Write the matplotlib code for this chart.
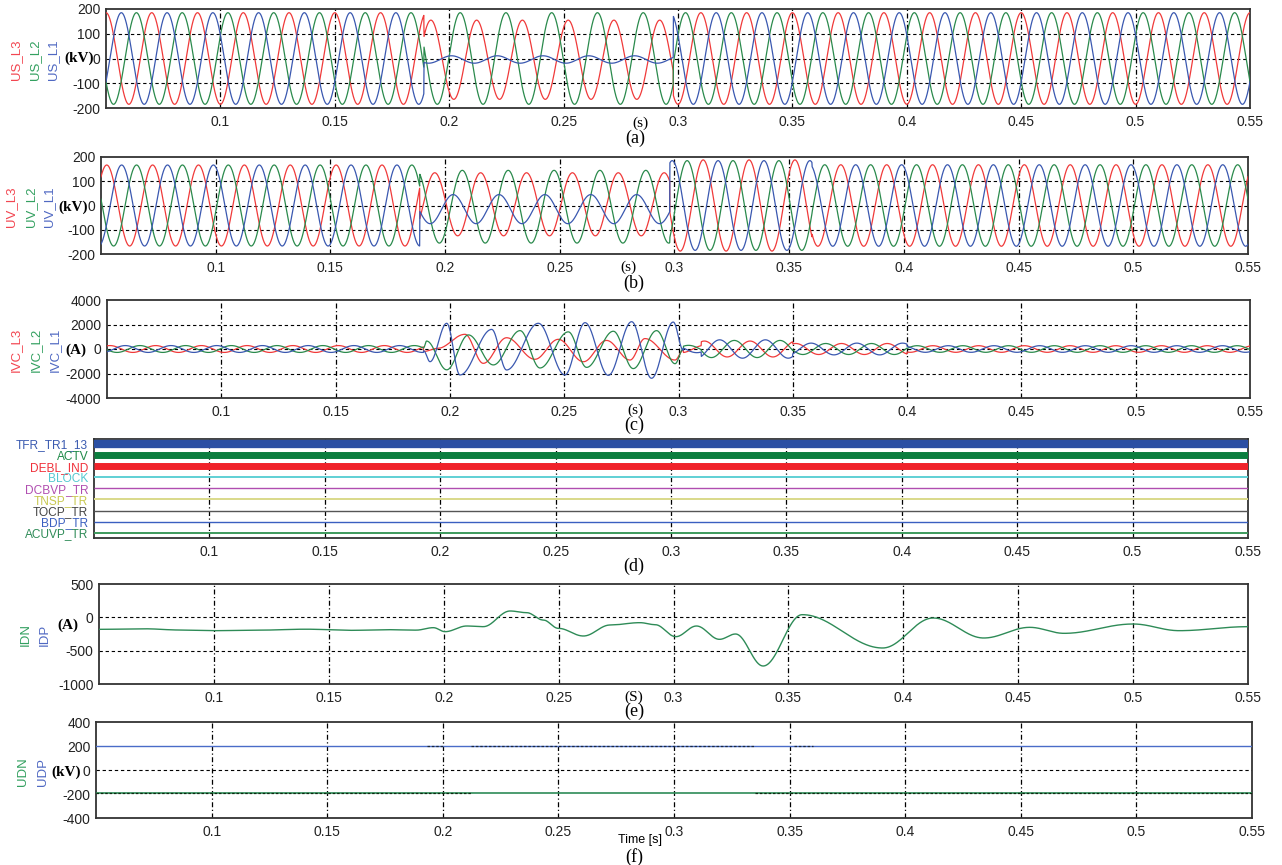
import numpy as np
import matplotlib
matplotlib.use("Agg")
import matplotlib.pyplot as plt

plt.rcParams['font.family'] = ['Liberation Sans', 'DejaVu Sans']

# ---------------- data ----------------
F_HZ = 50.0
T_START, T_END = 0.05, 0.55
FAULT_ON, FAULT_OFF = 0.189, 0.298
XTICKS = [0.1, 0.15, 0.2, 0.25, 0.3, 0.35, 0.4, 0.45, 0.5, 0.55]

# (a) US: segments [pre-fault, fault, post-fault]
US_EDGES = [T_START, FAULT_ON, FAULT_OFF, T_END]
US_PEAK0 = {'L1': 0.0567, 'L2': 0.0633, 'L3': 0.050}      # first positive peak time
US_AMP = {'L1': [185, 15, 185], 'L2': [185, 185, 185], 'L3': [185, 160, 185]}
US_LAG = {'L1': [0, 0.0043, 0], 'L2': [0, 0.0015, 0], 'L3': [0, 0.002, 0]}
US_OFF = {'L1': [0, -4, 0], 'L2': [0, 0, 0], 'L3': [0, -5, 0]}

# (b) UV: segments [pre, fault, post transient, settled]
UV_EDGES = [T_START, FAULT_ON, FAULT_OFF, 0.36, T_END]
UV_PEAK0 = {'L1': 0.059, 'L2': 0.0655, 'L3': 0.0525}
UV_AMP = {'L1': [167, 60, 185, 168], 'L2': [167, 150, 185, 168], 'L3': [167, 130, 188, 168]}
UV_LAG = {'L1': [0, 0.0045, 0, 0], 'L2': [0, 0.002, 0, 0], 'L3': [0, 0.003, 0, 0]}
UV_OFF = {'L1': [0, -15, 0, 0], 'L2': [0, -5, 0, 0], 'L3': [0, 5, 0, 0]}

# (c) IVC: steady segments + extrema during the fault
IVC_EDGES = [T_START, FAULT_ON, 0.302, 0.31, 0.35, 0.40, T_END]
IVC_PEAK0 = {'L1': 0.058, 'L2': 0.0644, 'L3': 0.0513}
IVC_AMP = {'L1': [280, 0, 300, 750, 480, 270],
           'L2': [280, 0, 300, 700, 450, 270],
           'L3': [280, 0, 300, 650, 450, 270]}
IVC_L1_T = [0.1885, 0.1913, 0.1986, 0.2044, 0.2183, 0.2248, 0.2387, 0.2503, 0.2591,
            0.2693, 0.2795, 0.2882, 0.2977, 0.3021]
IVC_L1_V = [-150, -1036, 2100, -2120, 1600, -1713, 2100, -2120, 2150, -2150, 2230,
            -2390, 2200, -100]
IVC_L2_T = [0.1885, 0.1898, 0.1986, 0.2081, 0.2190, 0.2307, 0.2394, 0.2518, 0.2598,
            0.2715, 0.2802, 0.2904, 0.2985, 0.3021]
IVC_L2_V = [100, 650, -1700, 1150, -1300, 1500, -1550, 1400, -1500, 1450, -1600, 1500,
            -1200, 0]
IVC_L3_T = [0.1885, 0.1946, 0.2066, 0.2146, 0.2248, 0.2372, 0.2474, 0.2584, 0.2685,
            0.2788, 0.2853, 0.2985, 0.3021]
IVC_L3_V = [-200, 50, 1200, -1170, 920, -840, 790, -1040, 700, -900, 850, -900, -100]

# (d) status signals (top to bottom)
STATUS_NAMES = ['TFR_TR1_13', 'ACTV', 'DEBL_IND', 'BLOCK', 'DCBVP_TR', 'TNSP_TR',
                'TOCP_TR', 'BDP_TR', 'ACUVP_TR']
STATUS_COLORS = ['#2b4fa3', '#0b7d3e', '#f0222a', '#5fd0d4', '#b04eb0', '#d9d98a',
                 '#555555', '#3a5fc0', '#3d9a5c']
STATUS_TEXT_COLORS = ['#3a5ab0', '#1f8a48', '#f0303a', '#55c8d0', '#b04eb0', '#c8c850',
                      '#444444', '#3a5fc0', '#2e8b57']
STATUS_WIDTH = [6.0, 5.0, 5.0, 1.4, 1.0, 1.4, 1.0, 1.0, 1.4]

# (e) IDN current extrema (A)
IDN_T = [0.05, 0.07, 0.085, 0.10, 0.12, 0.14, 0.16, 0.175, 0.188, 0.1955, 0.2006,
         0.2100, 0.2172, 0.2289, 0.2361, 0.2433, 0.2499, 0.2608, 0.2724, 0.2854, 0.2920,
         0.3010, 0.3100, 0.3200, 0.3270, 0.3390, 0.3560, 0.3910, 0.4130, 0.4350, 0.4550,
         0.4700, 0.5000, 0.5200, 0.5500]
IDN_V = [-180, -172, -190, -200, -192, -178, -195, -185, -192, -155, -215,
         -130, -140, 95, 70, -40, -165, -280, -115, -80, -110,
         -290, -130, -330, -250, -730, 40, -460, -10, -310, -150,
         -240, -100, -200, -140]

# (f) DC voltages (kV)
UDP_LEVEL = 200
UDN_LEVEL = -195
UDP_DIST = [(0.193, 0.200), (0.212, 0.335), (0.352, 0.360)]
UDN_DASH = [(0.05, 0.212), (0.335, 0.55)]

RED, GREEN, BLUE = '#f03a3a', '#2a8a4c', '#3a58b0'
LRED, LGREEN, LBLUE = '#f24550', '#33a060', '#4f68c2'

# ---------------- helpers ----------------
t = np.linspace(T_START, T_END, 5001)


def seg_wave(edges, amps, lags, offs, peak0):
    y = np.zeros_like(t)
    for i in range(len(amps)):
        hi = edges[i + 1]
        m = (t >= edges[i]) & ((t < hi) if i < len(amps) - 1 else (t <= hi))
        y[m] = offs[i] + amps[i] * np.cos(2 * np.pi * F_HZ * (t[m] - peak0 - lags[i]))
    return y


def through_extrema(tk, vk, y):
    tk = np.asarray(tk); vk = np.asarray(vk, float)
    y = y.copy()
    m = (t >= tk[0]) & (t <= tk[-1])
    tt = t[m]
    idx = np.clip(np.searchsorted(tk, tt, side='right') - 1, 0, len(tk) - 2)
    s = (tt - tk[idx]) / (tk[idx + 1] - tk[idx])
    y[m] = vk[idx] + (vk[idx + 1] - vk[idx]) * (1 - np.cos(np.pi * s)) / 2
    return y


fig = plt.figure(figsize=(12.82, 8.65), dpi=100)


def add_ax(L, R, T, B):
    return fig.add_axes([L / 1282, 1 - B / 865, (R - L) / 1282, (B - T) / 865])


def style(ax, ylim, yticks, hgrid):
    ax.set_xlim(T_START, T_END)
    ax.set_ylim(*ylim)
    ax.set_xticks(XTICKS)
    ax.set_xticklabels([f"{v:g}" for v in XTICKS])
    ax.set_yticks(yticks)
    if yticks:
        ax.set_yticklabels([f"{v:g}" for v in yticks])
    ax.tick_params(axis='both', labelsize=10, colors='#222222', length=0, pad=4)
    ax.tick_params(axis='x', pad=5)
    for s in ax.spines.values():
        s.set_color('#333333'); s.set_linewidth(1.3)
    for xv in XTICKS[:-1]:
        ax.axvline(xv, color='black', lw=0.9, ls=(0, (4, 2, 1, 2)), zorder=1)
    for hv in hgrid:
        ax.axhline(hv, color='black', lw=0.8, ls=(0, (3, 2.5)), zorder=1)


def ylabels(names, colors, xs, yc, unit, ux, uy, size=9.5):
    for n, c, x in zip(names, colors, xs):
        fig.text(x / 1282, 1 - yc / 865, n, color=c, rotation=90, ha='center', va='center',
                 fontsize=size)
    fig.text(ux / 1282, 1 - uy / 865, unit, fontsize=11, fontweight='bold',
             family='Liberation Serif', ha='center', va='center')


def caption(x, y, s, size=12, family='Liberation Serif'):
    fig.text(x / 1282, 1 - y / 865, s, fontsize=size, ha='center', va='center', family=family)


# ---------------- (a) ----------------
axa = add_ax(106, 1250, 9, 108)
style(axa, (-200, 200), [-200, -100, 0, 100, 200], [-100, 0, 100])
for ph, col in [('L3', RED), ('L2', GREEN), ('L1', BLUE)]:
    axa.plot(t, seg_wave(US_EDGES, US_AMP[ph], US_LAG[ph], US_OFF[ph], US_PEAK0[ph]),
             color=col, lw=0.9, zorder=3)
ylabels(['US_L3', 'US_L2', 'US_L1'], [LRED, LGREEN, LBLUE], [16, 35, 53], 60, '(kV)', 79, 58)
caption(640, 123, '(s)', 11)
caption(635, 138, '(a)', 13)

# ---------------- (b) ----------------
axb = add_ax(101, 1248, 157, 254)
style(axb, (-200, 200), [-200, -100, 0, 100, 200], [-100, 0, 100])
for ph, col in [('L3', RED), ('L2', GREEN), ('L1', BLUE)]:
    axb.plot(t, seg_wave(UV_EDGES, UV_AMP[ph], UV_LAG[ph], UV_OFF[ph], UV_PEAK0[ph]),
             color=col, lw=0.9, zorder=3)
ylabels(['UV_L3', 'UV_L2', 'UV_L1'], [LRED, LGREEN, LBLUE], [11, 31, 49], 207, '(kV)', 73, 207)
caption(628, 267, '(s)', 11)
caption(634, 283, '(b)', 13)

# ---------------- (c) ----------------
axc = add_ax(107, 1250, 300, 398)
style(axc, (-4000, 4000), [-4000, -2000, 0, 2000, 4000], [-2000, 0, 2000])
ivc_ext = {'L1': (IVC_L1_T, IVC_L1_V), 'L2': (IVC_L2_T, IVC_L2_V), 'L3': (IVC_L3_T, IVC_L3_V)}
zero = [0, 0, 0, 0, 0, 0]
for ph, col in [('L3', RED), ('L2', GREEN), ('L1', BLUE)]:
    y = seg_wave(IVC_EDGES, IVC_AMP[ph], zero, zero, IVC_PEAK0[ph])
    y = through_extrema(*ivc_ext[ph], y)
    axc.plot(t, y, color=col, lw=0.9, zorder=3)
ylabels(['IVC_L3', 'IVC_L2', 'IVC_L1'], [LRED, LGREEN, LBLUE], [16, 36, 55], 350, '(A)', 76, 350)
caption(635, 410, '(s)', 11)
caption(634, 425, '(c)', 13)

# ---------------- (d) ----------------
axd = add_ax(94, 1248, 439, 538)
n = len(STATUS_NAMES)
style(axd, (-0.48, n - 1 + 0.45), [], [])
for i, (name, col, tcol, w) in enumerate(zip(STATUS_NAMES, STATUS_COLORS,
                                             STATUS_TEXT_COLORS, STATUS_WIDTH)):
    yv = n - 1 - i
    axd.plot([T_START, T_END], [yv, yv], color=col, lw=w, solid_capstyle='butt', zorder=3)
    axd.text(-0.005, yv, name, transform=axd.get_yaxis_transform(), ha='right',
             va='center_baseline', color=tcol, fontsize=8.6)
caption(634, 566, '(d)', 13)

# ---------------- (e) ----------------
axe = add_ax(99, 1248, 584, 684)
style(axe, (-1000, 500), [-1000, -500, 0, 500], [-500, 0])
idn = through_extrema(IDN_T, IDN_V, np.zeros_like(t))
axe.plot(t, idn, color='#2e8b57', lw=1.0, zorder=3)
ylabels(['IDN', 'IDP'], [LGREEN, LBLUE], [26, 45], 635, '(A)', 68, 625)
caption(634, 697, '(S)', 11)
caption(634, 711, '(e)', 13)

# ---------------- (f) ----------------
axf = add_ax(96, 1252, 722, 818)
style(axf, (-400, 400), [-400, -200, 0, 200, 400], [0])
axf.plot([T_START, T_END], [UDP_LEVEL, UDP_LEVEL], color='#4a6cc8', lw=1.0, zorder=3)
axf.plot([T_START, T_END], [UDN_LEVEL, UDN_LEVEL], color='#2e8b57', lw=1.2, zorder=3)
for a, b in UDP_DIST:
    axf.plot([a, b], [UDP_LEVEL, UDP_LEVEL], color='#1a2a40', lw=0.9, ls=(0, (2, 1.5)), zorder=4)
for a, b in UDN_DASH:
    axf.plot([a, b], [UDN_LEVEL, UDN_LEVEL], color='#0a2a10', lw=0.9, ls=(0, (2, 1.5)), zorder=4)
ylabels(['UDN', 'UDP'], [LGREEN, LBLUE], [23, 43], 772, '(kV)', 66, 772)
caption(640, 840, 'Time [s]', 9, 'Liberation Sans')
caption(634, 857, '(f)', 13)

fig.savefig('out.png', dpi=100)
